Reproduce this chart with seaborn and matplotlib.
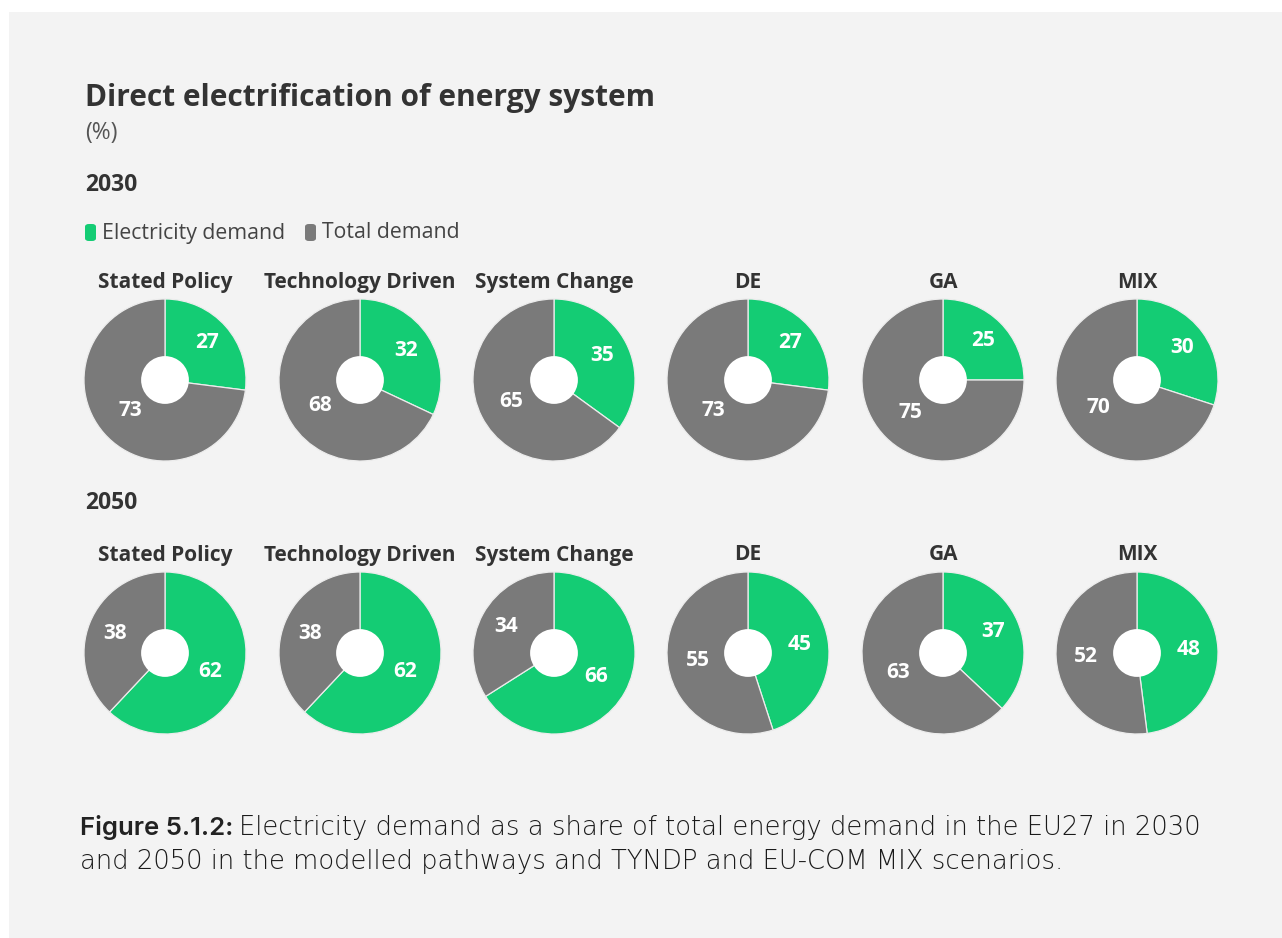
import matplotlib
matplotlib.use("Agg")
import numpy as np
import matplotlib.pyplot as plt
from matplotlib.patches import Rectangle, FancyBboxPatch, Circle
import seaborn as sns

# ---- data -------------------------------------------------------------
scenarios = ["Stated Policy", "Technology Driven", "System Change", "DE", "GA", "MIX"]
years = ["2030", "2050"]
elec_2030 = [27, 32, 35, 27, 25, 30]
total_2030 = [73, 68, 65, 73, 75, 70]
elec_2050 = [62, 62, 66, 45, 37, 48]
total_2050 = [38, 38, 34, 55, 63, 52]
series_names = ["Electricity demand", "Total demand"]

# ---- style ------------------------------------------------------------
sns.set_theme(style="white")
plt.rcParams["font.family"] = ["Open Sans", "DejaVu Sans"]

GREEN = "#14cc74"
GREY = "#7a7a7a"
PANEL = "#f3f3f3"
INK = "#333333"
palette = sns.color_palette([GREEN, GREY])

W, H = 1282, 938
fig = plt.figure(figsize=(W / 100, H / 100), dpi=100, facecolor="white")


def fx(x):
    return x / W


def fy(y):
    return 1 - y / H


# light panel behind the whole graphic
fig.patches.append(Rectangle((fx(9), 0), 1, fy(12), transform=fig.transFigure,
                             facecolor=PANEL, edgecolor="none", zorder=-5))

# ---- headings ---------------------------------------------------------
fig.text(fx(85), fy(98), "Direct electrification of energy system", fontsize=21.5,
         fontweight="bold", color=INK, va="center", ha="left")
fig.text(fx(85), fy(133), "(%)", fontsize=16.5, color="#555555", va="center", ha="left")

row_label_y = [185, 503]
for yl, yr in zip(years, row_label_y):
    fig.text(fx(85), fy(yr), yl, fontsize=16.5, fontweight="bold", color=INK,
             va="center", ha="left")

# ---- legend -----------------------------------------------------------
legend_items = [(85, 102), (305, 322)]
for (mx, tx), name, col in zip(legend_items, series_names, palette):
    fig.patches.append(FancyBboxPatch((fx(mx), fy(241)), 11 / W, 17 / H,
                                      boxstyle="round,pad=0,rounding_size=0.003",
                                      transform=fig.transFigure, facecolor=col,
                                      edgecolor="none", zorder=2))
    fig.text(fx(tx), fy(233), name, fontsize=15.3, color="#444444",
             va="center", ha="left")

# ---- donuts -----------------------------------------------------------
col_x = [165, 360, 554, 748, 943, 1137]
row_y = [380, 653]
title_y = [282, 555]
R = 81
data_rows = [(elec_2030, total_2030), (elec_2050, total_2050)]

for r, (elec, total) in enumerate(data_rows):
    for c, name in enumerate(scenarios):
        cx, cy = col_x[c], row_y[r]
        ax = fig.add_axes([fx(cx - R), fy(cy + R), 2 * R / W, 2 * R / H])
        ax.set_facecolor("none")
        vals = [elec[c], total[c]]
        wedges, _, autotexts = ax.pie(
            vals, colors=palette, startangle=90, counterclock=False, radius=1,
            autopct=lambda p: f"{round(p)}", pctdistance=0.66,
            wedgeprops=dict(edgecolor="#ececec", linewidth=0.9),
            textprops=dict(color="white", fontsize=15, fontweight="bold"))
        # smaller slices carry their label nearer the rim, larger ones nearer the hole
        for w, t in zip(wedges, autotexts):
            share = (w.theta2 - w.theta1) / 360.0
            dist = 0.76 - 0.25 * share
            mid = np.deg2rad((w.theta1 + w.theta2) / 2)
            t.set_position((dist * np.cos(mid), dist * np.sin(mid)))
        ax.add_patch(Circle((0, 0), 0.295, facecolor="white", edgecolor="none", zorder=3))
        ax.set_xlim(-1, 1)
        ax.set_ylim(-1, 1)
        ax.set_aspect("equal")
        ax.axis("off")
        fig.text(fx(cx), fy(title_y[r]), name, fontsize=15, fontweight="bold",
                 color=INK, va="center", ha="center")

# ---- caption ----------------------------------------------------------
t1 = fig.text(fx(80), fy(827), "Figure 5.1.2:", fontsize=18.5, fontweight="semibold",
              family=["Inter", "DejaVu Sans"], color="#222222", va="center", ha="left")
fig.canvas.draw()
bb = t1.get_window_extent(fig.canvas.get_renderer())
cap_font = ["DejaVu Sans"]
fig.text(bb.x1 / W + fx(6), fy(827),
         "Electricity demand as a share of total energy demand in the EU27 in 2030",
         fontsize=18.6, fontweight="light", family=cap_font, color="#1a1a1a",
         va="center", ha="left")
fig.text(fx(80), fy(862),
         "and 2050 in the modelled pathways and TYNDP and EU-COM MIX scenarios.",
         fontsize=18.6, fontweight="light", family=cap_font, color="#1a1a1a",
         va="center", ha="left")

fig.savefig("out.png", dpi=100, facecolor="white")
